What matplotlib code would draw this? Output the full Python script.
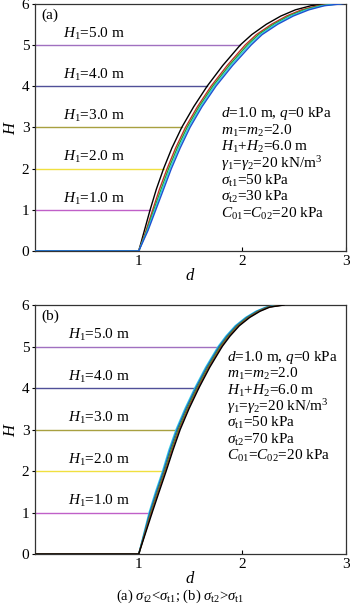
import numpy as np
import matplotlib
matplotlib.use("Agg")
import matplotlib.pyplot as plt

plt.rcParams['font.family'] = ['Liberation Serif', 'DejaVu Serif']
plt.rcParams['mathtext.fontset'] = 'custom'
plt.rcParams['mathtext.rm'] = 'Liberation Serif'
plt.rcParams['mathtext.it'] = 'Liberation Serif:italic'

# H levels at which the curves were read (first point is the d=0 start)
H_pts = [0, 0, 0.5, 1, 1.5, 2, 2.5, 3, 3.5, 4, 4.5, 5, 5.25, 5.5, 5.7, 5.85, 5.95, 6]

# panel (a): sigma_t2 < sigma_t1
curves_a = {
    'black':   [0, 1.0, 1.055, 1.11, 1.17, 1.24, 1.32, 1.415, 1.53, 1.66, 1.81, 1.98, 2.09, 2.23, 2.37, 2.51, 2.66, 2.85],
    '#c0302a': [0, 1.0, 1.071, 1.135, 1.20, 1.274, 1.356, 1.451, 1.566, 1.698, 1.853, 2.027, 2.135, 2.28, 2.424, 2.569, 2.719, 2.904],
    '#2ca02c': [0, 1.0, 1.078, 1.146, 1.216, 1.289, 1.372, 1.467, 1.582, 1.715, 1.872, 2.048, 2.155, 2.302, 2.448, 2.595, 2.745, 2.928],
    '#30d0e0': [0, 1.0, 1.084, 1.155, 1.227, 1.302, 1.386, 1.481, 1.596, 1.73, 1.888, 2.066, 2.172, 2.32, 2.468, 2.617, 2.767, 2.948],
    '#2050d0': [0, 1.0, 1.09, 1.165, 1.24, 1.315, 1.40, 1.495, 1.61, 1.745, 1.905, 2.085, 2.19, 2.34, 2.49, 2.64, 2.79, 2.97],
}
# panel (b): sigma_t2 > sigma_t1
curves_b = {
    '#30d0e0': [0, 1.0, 1.05, 1.10, 1.162, 1.23, 1.29, 1.36, 1.445, 1.54, 1.645, 1.765, 1.84, 1.93, 2.03, 2.13, 2.225, 2.36],
    '#2050d0': [0, 1.0, 1.054, 1.107, 1.171, 1.239, 1.30, 1.37, 1.455, 1.55, 1.655, 1.775, 1.85, 1.94, 2.04, 2.14, 2.235, 2.37],
    '#2ca02c': [0, 1.0, 1.058, 1.115, 1.18, 1.248, 1.31, 1.38, 1.465, 1.56, 1.665, 1.785, 1.86, 1.95, 2.05, 2.15, 2.245, 2.38],
    '#a04030': [0, 1.0, 1.061, 1.122, 1.188, 1.256, 1.32, 1.39, 1.475, 1.57, 1.675, 1.795, 1.87, 1.96, 2.06, 2.16, 2.255, 2.39],
    'black':   [0, 1.0, 1.065, 1.13, 1.197, 1.265, 1.33, 1.40, 1.485, 1.58, 1.685, 1.805, 1.88, 1.97, 2.07, 2.17, 2.265, 2.40],
}

H1 = [1.0, 2.0, 3.0, 4.0, 5.0]
H1_colors = ['#c060c8', '#f0e040', '#a8a040', '#505098', '#a070c0']
H1_end_a = [1.11, 1.24, 1.415, 1.66, 1.98]
H1_end_b = [1.12, 1.25, 1.38, 1.57, 1.79]

info_a = [r'$d$=1.0 m, $q$=0 kPa', r'$m_1$=$m_2$=2.0', r'$H_1$+$H_2$=6.0 m',
          r'$\gamma_1$=$\gamma_2$=20 kN/m$^3$', r'$\sigma_{\rm t1}$=50 kPa',
          r'$\sigma_{\rm t2}$=30 kPa', r'$C_{01}$=$C_{02}$=20 kPa']
info_b = info_a[:5] + [r'$\sigma_{\rm t2}$=70 kPa', info_a[6]]

fig = plt.figure(figsize=(3.5, 6.13), dpi=100)
ax_a = fig.add_axes([0.10, 0.5905, 0.889, 0.4035])
ax_b = fig.add_axes([0.10, 0.0962, 0.889, 0.4062])


def draw(ax, curves, ends, info, tag, lab_x, info_xy, step):
    for c, ds in curves.items():
        ax.plot(ds, H_pts, color=c, lw=1.0, zorder=3, solid_joinstyle='round')
    for h, col, e in zip(H1, H1_colors, ends):
        ax.plot([0, e], [h, h], color=col, lw=1.0, zorder=2)
        ax.text(lab_x, h + 0.27, r'$H_1$=%.1f m' % h, fontsize=11,
                va='center', ha='left')
    for i, s in enumerate(info):
        ax.text(info_xy[0], info_xy[1] - i * step, s, fontsize=11,
                transform=ax.transAxes, va='center', ha='left')
    ax.text(0.02, 0.955, tag, fontsize=11, transform=ax.transAxes,
            va='center', ha='left')
    ax.set_xlim(0, 3)
    ax.set_ylim(0, 6)
    ax.set_xticks([1, 2, 3])
    ax.set_yticks([0, 1, 2, 3, 4, 5, 6])
    ax.tick_params(axis='x', direction='in', length=3, labelsize=11, pad=3)
    ax.tick_params(axis='y', direction='out', length=2, labelsize=11, pad=2)
    ax.set_xlabel('$d$', fontsize=12, labelpad=0)
    ax.set_ylabel('$H$', fontsize=12, labelpad=2)
    for sp in ax.spines.values():
        sp.set_color('#333333')
        sp.set_linewidth(0.9)


draw(ax_a, curves_a, H1_end_a, info_a, '(a)', 0.27, (0.599, 0.555), 0.0676)
draw(ax_b, curves_b, H1_end_b, info_b, '(b)', 0.32, (0.617, 0.788), 0.0656)

fig.text(0.514, 0.028, r'(a) $\sigma_{\rm t2}$<$\sigma_{\rm t1}$; (b) $\sigma_{\rm t2}$>$\sigma_{\rm t1}$',
         fontsize=10.5, ha='center', va='center')

fig.savefig('out.png', dpi=100)
